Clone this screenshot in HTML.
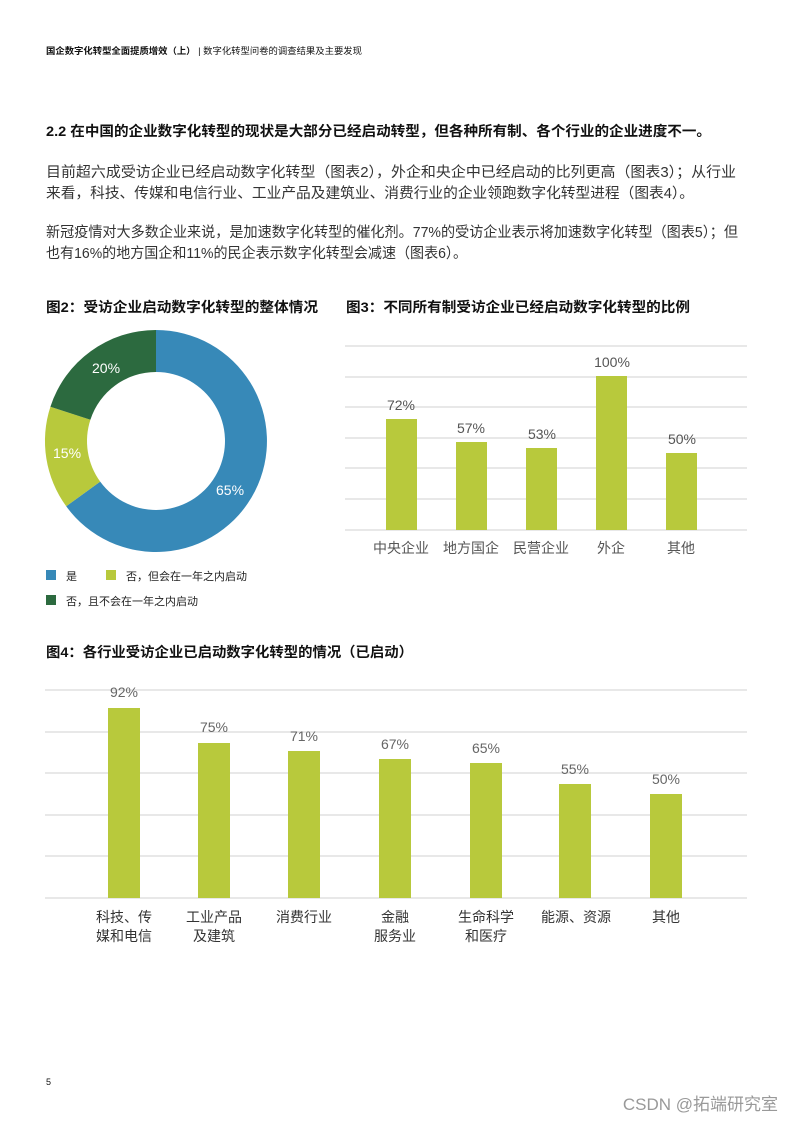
<!DOCTYPE html>
<html><head><meta charset="utf-8"><style>
html,body{margin:0;padding:0;background:#fff}
svg{display:block}
text{font-family:"Liberation Sans","Noto Sans CJK SC",sans-serif}
</style></head><body>
<svg width="793" height="1122" viewBox="0 0 793 1122" xmlns="http://www.w3.org/2000/svg">
<text x="46" y="54" font-size="9" font-weight="bold" fill="#111" textLength="316" lengthAdjust="spacingAndGlyphs">国企数字化转型全面提质增效（上）<tspan font-weight="normal"> | 数字化转型问卷的调查结果及主要发现</tspan></text>
<text x="46" y="136" font-size="14" font-weight="bold" fill="#111" textLength="665" lengthAdjust="spacingAndGlyphs">2.2 在中国的企业数字化转型的现状是大部分已经启动转型，但各种所有制、各个行业的企业进度不一。</text>
<g font-size="14.5" fill="#333">
<text x="46" y="177" textLength="690" lengthAdjust="spacingAndGlyphs">目前超六成受访企业已经启动数字化转型（图表2），外企和央企中已经启动的比列更高（图表3）；从行业</text>
<text x="46" y="198" textLength="648" lengthAdjust="spacingAndGlyphs">来看，科技、传媒和电信行业、工业产品及建筑业、消费行业的企业领跑数字化转型进程（图表4）。</text>
<text x="46" y="237" textLength="692" lengthAdjust="spacingAndGlyphs">新冠疫情对大多数企业来说，是加速数字化转型的催化剂。77%的受访企业表示将加速数字化转型（图表5）；但</text>
<text x="46" y="258" textLength="421" lengthAdjust="spacingAndGlyphs">也有16%的地方国企和11%的民企表示数字化转型会减速（图表6）。</text>
</g>
<text x="46" y="312" font-size="14" font-weight="bold" fill="#111" textLength="272" lengthAdjust="spacingAndGlyphs">图2：受访企业启动数字化转型的整体情况</text>
<text x="346" y="312" font-size="14" font-weight="bold" fill="#111" textLength="344" lengthAdjust="spacingAndGlyphs">图3：不同所有制受访企业已经启动数字化转型的比例</text>
<!-- donut -->
<path d="M156 330 A111 111 0 1 1 66.2 506.3 L100.2 481.6 A69 69 0 1 0 156 372 Z" fill="#3789b8"/>
<path d="M66.2 506.3 A111 111 0 0 1 50.4 406.7 L90.4 419.7 A69 69 0 0 0 100.2 481.6 Z" fill="#b8c93c"/>
<path d="M50.4 406.7 A111 111 0 0 1 156 330 L156 372 A69 69 0 0 0 90.4 419.7 Z" fill="#2c6a3f"/>
<g font-size="14" fill="#fff"><text x="92" y="373">20%</text><text x="53" y="458">15%</text><text x="216" y="495">65%</text></g>
<rect x="46" y="570" width="10" height="10" fill="#3789b8"/><text x="66" y="580" font-size="11" fill="#222">是</text>
<rect x="106" y="570" width="10" height="10" fill="#b8c93c"/><text x="126" y="580" font-size="11" fill="#222">否，但会在一年之内启动</text>
<rect x="46" y="595" width="10" height="10" fill="#2c6a3f"/><text x="66" y="605" font-size="11" fill="#222">否，且不会在一年之内启动</text>
<!-- chart3 -->
<g stroke="#d9d9d9" stroke-width="1.2">
<line x1="345" x2="747" y1="346" y2="346"/><line x1="345" x2="747" y1="377" y2="377"/><line x1="345" x2="747" y1="407" y2="407"/><line x1="345" x2="747" y1="438" y2="438"/><line x1="345" x2="747" y1="468" y2="468"/><line x1="345" x2="747" y1="499" y2="499"/><line x1="345" x2="747" y1="530" y2="530"/>
</g>
<g fill="#b8c93c">
<rect x="386" y="419" width="31" height="111"/><rect x="456" y="442" width="31" height="88"/><rect x="526" y="448" width="31" height="82"/><rect x="596" y="376" width="31" height="154"/><rect x="666" y="453" width="31" height="77"/>
</g>
<g font-size="14" fill="#555" text-anchor="middle">
<text x="401" y="410">72%</text><text x="471" y="433">57%</text><text x="542" y="439">53%</text><text x="612" y="367">100%</text><text x="682" y="444">50%</text>
<text x="401" y="553">中央企业</text><text x="471" y="553">地方国企</text><text x="541" y="553">民营企业</text><text x="611" y="553">外企</text><text x="681" y="553">其他</text>
</g>
<text x="46" y="657" font-size="14" font-weight="bold" fill="#111" textLength="367" lengthAdjust="spacingAndGlyphs">图4：各行业受访企业已启动数字化转型的情况（已启动）</text>
<g stroke="#d9d9d9" stroke-width="1.2">
<line x1="45" x2="747" y1="690" y2="690"/><line x1="45" x2="747" y1="732" y2="732"/><line x1="45" x2="747" y1="773" y2="773"/><line x1="45" x2="747" y1="815" y2="815"/><line x1="45" x2="747" y1="856" y2="856"/><line x1="45" x2="747" y1="898" y2="898"/>
</g>
<g fill="#b8c93c">
<rect x="108" y="708" width="32" height="190"/><rect x="198" y="743" width="32" height="155"/><rect x="288" y="751" width="32" height="147"/><rect x="379" y="759" width="32" height="139"/><rect x="470" y="763" width="32" height="135"/><rect x="559" y="784" width="32" height="114"/><rect x="650" y="794" width="32" height="104"/>
</g>
<g font-size="14" fill="#666" text-anchor="middle">
<text x="124" y="697">92%</text><text x="214" y="732">75%</text><text x="304" y="741">71%</text><text x="395" y="749">67%</text><text x="486" y="753">65%</text><text x="575" y="774">55%</text><text x="666" y="784">50%</text>
</g>
<g font-size="14" fill="#333" text-anchor="middle">
<text x="124" y="922">科技、传</text><text x="124" y="941">媒和电信</text>
<text x="214" y="922">工业产品</text><text x="214" y="941">及建筑</text>
<text x="304" y="922">消费行业</text>
<text x="395" y="922">金融</text><text x="395" y="941">服务业</text>
<text x="486" y="922">生命科学</text><text x="486" y="941">和医疗</text>
<text x="576" y="922">能源、资源</text>
<text x="666" y="922">其他</text>
</g>
<text x="46" y="1085" font-size="9" fill="#111">5</text>
<text x="778" y="1110" font-size="17" fill="#999" text-anchor="end">CSDN @拓端研究室</text>
</svg>
</body></html>
